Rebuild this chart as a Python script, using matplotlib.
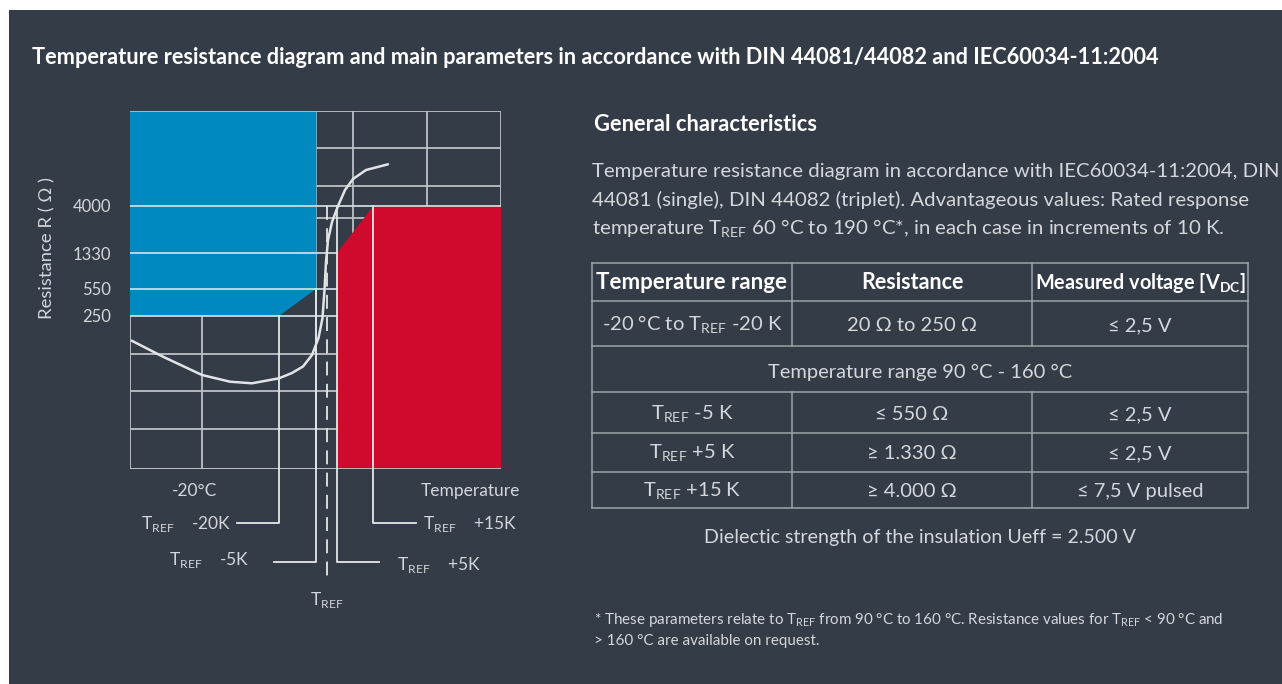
import matplotlib
matplotlib.use("Agg")
import matplotlib.pyplot as plt
from matplotlib.patches import Polygon, Rectangle

plt.rcParams['font.family'] = ['Lato', 'DejaVu Sans']
plt.rcParams['mathtext.fontset'] = 'custom'
plt.rcParams['mathtext.rm'] = 'Lato'
plt.rcParams['lines.scale_dashes'] = False

W, H = 1282, 684
BG = '#343c47'
BLUE = '#0088c1'
RED = '#cf0a2c'
TXT = '#d4d7db'
GRID = '#bcc1c7'
LINE = '#e6e8ea'
WT = 'normal'

# ------------------------------------------------------------------ data
title = ("Temperature resistance diagram and main parameters in accordance "
         "with DIN 44081/44082 and IEC60034-11:2004")
resistance_levels = [250, 550, 1330, 4000]
resistance_y = [153.0, 180.3, 215.7, 263.0]          # schematic heights
diagram_w, diagram_h = 371.0, 358.3
marker_names = ['-20K', '-5K', '', '+5K', '+15K']
marker_x = [149.0, 186.3, 196.7, 206.7, 243.3]
marker_top_level = [250, 550, 4000, 4000, 4000]
marker_bottom = [-54.3, -92.7, -109.0, -92.7, -54.3]
leader_end = [107.3, 144.3, None, 249.3, 286.0]
label_x = [101.7, 119.3, 196.7, 266.7, 293.3]
label_base = [-59.5, -96.0, -136.0, -101.0, -59.5]
label_ha = ['right', 'right', 'center', 'left', 'left']
grid_x = [72.3, 186.3, 223.3, 297.3]
grid_y = [39.7, 78.0, 114.7, 250.7, 283.3, 320.7]
curve_x = [1.7, 33, 72, 100, 122, 149, 162, 173, 182, 188.5, 192.5, 194.5,
           196, 198, 202, 208, 215, 223, 236, 258]
curve_y = [128.3, 112.3, 94, 87.3, 85.7, 90.7, 96, 102.5, 114, 131, 151, 179,
           207, 229, 247, 263, 279, 290, 299, 304.7]

table_cols = [592, 792, 1032, 1248]
table_rows = [263, 300.7, 346, 392.3, 432.7, 471.7, 508.3]
header = ['Temperature range', 'Resistance',
          r'Measured voltage [V$_\mathregular{DC}$]']
header_w = [190, 103, 210]
temp_col = [r'-20 °C to T$_\mathregular{REF}$ -20 K', r'T$_\mathregular{REF}$ -5 K',
            r'T$_\mathregular{REF}$ +5 K', r'T$_\mathregular{REF}$ +15 K']
resist_col = ['20 Ω to 250 Ω', '≤ 550 Ω', '≥ 1.330 Ω', '≥ 4.000 Ω']
volt_col = ['≤ 2,5 V', '≤ 2,5 V', '≤ 2,5 V', '≤ 7,5 V pulsed']
span_text = 'Temperature range 90 °C - 160 °C'
para = ["Temperature resistance diagram in accordance with IEC60034-11:2004, DIN",
        "44081 (single), DIN 44082 (triplet). Advantageous values: Rated response",
        r"temperature T$_\mathregular{REF}$ 60 °C to 190 °C*, in each case in increments of 10 K."]
foot = [r"* These parameters relate to T$_\mathregular{REF}$ from 90 °C to 160 °C. "
        r"Resistance values for T$_\mathregular{REF}$ < 90 °C and",
        "> 160 °C are available on request."]
dielectric = "Dielectic strength of the insulation Ueff = 2.500 V"

# ------------------------------------------------------------------ figure
fig = plt.figure(figsize=(W / 100, H / 100), dpi=100, facecolor='white')
bg = fig.add_axes([0, 0, 1, 1])
bg.set_xlim(0, W)
bg.set_ylim(H, 0)
bg.axis('off')
bg.add_patch(Rectangle((9, 10), W - 9, H - 10, facecolor=BG, edgecolor='none'))

renderer = fig.canvas.get_renderer()


def fit(t, target):
    w = t.get_window_extent(renderer=renderer).width
    t.set_fontsize(t.get_fontsize() * target / w)
    return t.get_fontsize()


t = bg.text(32, 64, title, color='white', fontweight='bold', fontsize=13,
            va='baseline', ha='left')
fit(t, 1128)
t = bg.text(594, 131, 'General characteristics', color='white',
            fontweight='bold', fontsize=13, va='baseline')
fit(t, 223)

pt = [bg.text(592, b, s, color=TXT, fontweight=WT, fontsize=13,
              va='baseline') for s, b in zip(para, [177, 206, 235])]
ps = fit(pt[1], 655)
for p in pt:
    p.set_fontsize(ps)

# table
TL = '#9ba2aa'
for y in table_rows:
    bg.plot([table_cols[0], table_cols[-1]], [y, y], color=TL, lw=1.1)
for x in (table_cols[0], table_cols[-1]):
    bg.plot([x, x], [table_rows[0], table_rows[-1]], color=TL, lw=1.1)
for x in table_cols[1:-1]:
    bg.plot([x, x], [table_rows[0], table_rows[2]], color=TL, lw=1.1)
    bg.plot([x, x], [table_rows[3], table_rows[-1]], color=TL, lw=1.1)

centers = [(table_cols[i] + table_cols[i + 1]) / 2 for i in range(3)]
for c, s, w in zip(centers, header, header_w):
    h_ = bg.text(c, 289, s, color='white', fontweight='bold', fontsize=13,
                 ha='center', va='baseline')
    fit(h_, w)

st = bg.text((table_cols[0] + table_cols[-1]) / 2, 378, span_text, color=TXT,
             fontweight=WT, fontsize=13, ha='center', va='baseline')
cs = fit(st, 303)
bases = [331, 420, 459, 497]
for r, b in enumerate(bases):
    for c, col in zip(centers, (temp_col, resist_col, volt_col)):
        bg.text(c, b, col[r], color=TXT, fontweight=WT, fontsize=cs,
                ha='center', va='baseline')

dt = bg.text((table_cols[0] + table_cols[-1]) / 2, 543, dielectric, color=TXT,
             fontweight=WT, fontsize=13, ha='center', va='baseline')
fit(dt, 430)

ft = [bg.text(594, b, s, color=TXT, fontweight=WT, fontsize=9,
              va='baseline') for s, b in zip(foot, [624, 645])]
fs = fit(ft[0], 632)
for f in ft:
    f.set_fontsize(fs)

# ------------------------------------------------------------------ diagram
ax = fig.add_axes([130 / W, (H - 469) / H, diagram_w / W, diagram_h / H])
ax.set_facecolor('none')
ax.set_xlim(0, diagram_w)
ax.set_ylim(0, diagram_h)
for s in ax.spines.values():
    s.set_visible(False)
ax.set_xticks([])
lvl = dict(zip(resistance_levels, resistance_y))

# background grid
for x in grid_x:
    ax.plot([x, x], [0, diagram_h], color=GRID, lw=1.3, zorder=1)
for y in grid_y:
    ax.plot([0, diagram_w], [y, y], color=GRID, lw=1.3, zorder=1)
ax.plot([0, diagram_w, diagram_w, 0, 0], [0, 0, diagram_h, diagram_h, 0],
        color=GRID, lw=1.3, zorder=1)

# blue zone (too cold) and red zone (too hot)
blue = Polygon([(0, lvl[250]), (0, diagram_h), (marker_x[1], diagram_h),
                (marker_x[1], lvl[550]), (marker_x[0], lvl[250])],
               closed=True, facecolor=BLUE, edgecolor='none', zorder=2)
red = Polygon([(marker_x[3], 0), (marker_x[3], lvl[1330]),
               (marker_x[4], lvl[4000]), (diagram_w, lvl[4000]),
               (diagram_w, 0)],
              closed=True, facecolor=RED, edgecolor='none', zorder=2)
ax.add_patch(blue)
ax.add_patch(red)

# resistance reference lines
ax.plot([0, diagram_w], [lvl[4000]] * 2, color='#d0d8de', lw=1.3, zorder=3)
for v in (1330, 550, 250):
    ax.plot([0, marker_x[3]], [lvl[v]] * 2, color='#d0d8de', lw=1.3, zorder=3)
ax.plot([0, diagram_w], [0, 0], color=GRID, lw=1.3, zorder=3)
ax.plot([0, marker_x[1]], [diagram_h] * 2, color='#9cc4dc', lw=1.3, zorder=3)

# temperature marker lines
for i, x in enumerate(marker_x):
    top = lvl[marker_top_level[i]]
    if marker_names[i] == '':
        ax.plot([x, x], [top, marker_bottom[i]], color=LINE, lw=1.3,
                ls=(0, (10, 6)), zorder=4, clip_on=False)
    else:
        ax.plot([x, x, leader_end[i]],
                [top, marker_bottom[i], marker_bottom[i]],
                color=LINE, lw=1.3, zorder=4, clip_on=False)
    ax.text(label_x[i], label_base[i],
            r'T$_\mathregular{REF}$' + ('    ' + marker_names[i] if marker_names[i] else ''),
            color=TXT, fontweight=WT, fontsize=12.5, ha=label_ha[i],
            va='baseline', clip_on=False)

# characteristic curve
ax.plot(curve_x, curve_y, color='#e2e4e6', lw=1.8, zorder=5,
        solid_capstyle='round', solid_joinstyle='round')

# axis labels
ax.set_yticks(resistance_y, [str(v) for v in resistance_levels])
ax.tick_params(axis='y', length=0, pad=13.7, labelsize=12, labelcolor=TXT)
ax.text(-83 / diagram_w, (469 - 248) / diagram_h, 'Resistance R ( Ω )',
        rotation=90, transform=ax.transAxes, ha='center', va='center',
        color=TXT, fontweight=WT, fontsize=13.3)
ax.text(65, -27.5, '-20°C', color=TXT, fontweight=WT, fontsize=12.5,
        ha='center', va='baseline', clip_on=False)
ax.text(390, -27, 'Temperature', color=TXT, fontweight=WT, fontsize=12.5,
        ha='right', va='baseline', clip_on=False)

fig.savefig('out.png', dpi=100, facecolor='white')
